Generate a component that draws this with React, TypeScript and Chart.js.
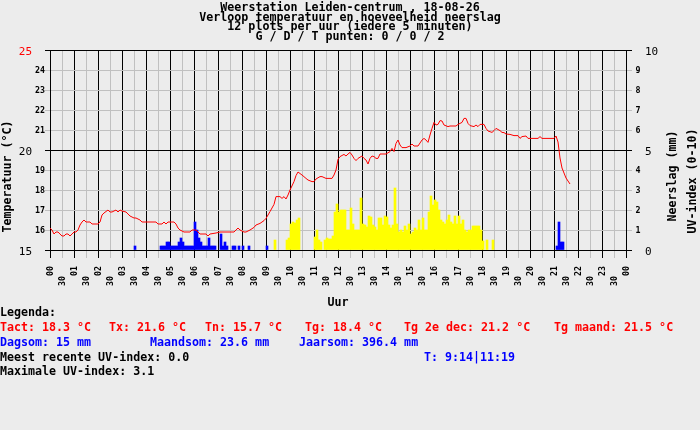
import React, { useEffect, useRef } from 'react';
import { Chart, registerables } from 'chart.js';

Chart.register(...registerables);

// ---------- texts ----------
const titleLines = [
  'Weerstation Leiden-centrum , 18-08-26',
  'Verloop temperatuur en hoeveelheid neerslag',
  '12 plots per uur (iedere 5 minuten)',
  'G / D / T punten: 0 / 0 / 2',
];
const hourLabels = ['00', '01', '02', '03', '04', '05', '06', '07', '08', '09', '10', '11', '12',
  '13', '14', '15', '16', '17', '18', '19', '20', '21', '22', '23', '00'];
const halfHourLabel = '30';
const tempTickLabels = ['15', '16', '17', '18', '19', '20', '21', '22', '23', '24', '25'];
const rightTickLabels = ['0', '1', '2', '3', '4', '5', '6', '7', '8', '9', '10'];
const leftTitle = 'Temperatuur (°C)';
const rainTitle = 'Neerslag (mm)';
const uvTitle = 'UV-index (0-10)';
const xTitle = 'Uur';
const legendHeading = 'Legenda:';
const tempStats = ['Tact: 18.3 °C', 'Tx: 21.6 °C', 'Tn: 15.7 °C', 'Tg: 18.4 °C', 'Tg 2e dec: 21.2 °C', 'Tg maand: 21.5 °C'];
const rainStats = ['Dagsom: 15 mm', 'Maandsom: 23.6 mm', 'Jaarsom: 396.4 mm'];
const uvRecent = 'Meest recente UV-index: 0.0';
const uvTimes = 'T: 9:14|11:19';
const uvMax = 'Maximale UV-index: 3.1';

// ---------- data (minutes of the day) ----------
const tempTimes = [
  0, 5, 10, 15, 20, 30, 35, 40, 45, 50, 60, 65, 70, 75, 80, 85, 90, 100, 105, 120,
  125, 130, 135, 145, 150, 155, 165, 170, 175, 180, 190, 195, 200, 210, 215, 225, 230, 265, 270, 280,
  285, 290, 295, 310, 315, 320, 325, 335, 350, 355, 365, 370, 375, 390, 395, 400, 415, 425, 460, 465,
  470, 475, 485, 490, 500, 510, 515, 525, 535, 540, 550, 560, 565, 575, 580, 585, 590, 595, 600, 610,
  615, 620, 630, 640, 645, 655, 660, 665, 675, 680, 690, 705, 710, 715, 720, 725, 735, 740, 745, 750,
  755, 760, 765, 770, 780, 785, 790, 795, 800, 805, 810, 815, 820, 825, 840, 850, 855, 860, 865, 870,
  875, 880, 890, 900, 905, 910, 920, 930, 935, 940, 945, 950, 955, 960, 965, 970, 975, 980, 985, 995,
  1000, 1015, 1020, 1030, 1035, 1040, 1045, 1050, 1060, 1065, 1070, 1075, 1085, 1090, 1095, 1105, 1110, 1115, 1125, 1130,
  1135, 1140, 1150, 1160, 1170, 1175, 1180, 1190, 1195, 1220, 1225, 1230, 1260, 1265, 1270, 1275, 1280, 1285, 1290, 1295,
  1300,
];
const tempValues = [
  16.1, 16.0, 15.8, 15.9, 15.9, 15.7, 15.7, 15.8, 15.8, 15.7, 15.9, 15.9, 16.0, 16.25, 16.4, 16.5, 16.4, 16.4, 16.3, 16.3,
  16.4, 16.75, 16.85, 17.0, 16.9, 16.9, 17.0, 16.9, 17.0, 16.95, 16.9, 16.8, 16.7, 16.6, 16.6, 16.5, 16.4, 16.4, 16.3, 16.3,
  16.4, 16.3, 16.4, 16.4, 16.3, 16.1, 16.0, 15.9, 15.9, 16.0, 16.0, 15.9, 15.8, 15.8, 15.7, 15.8, 15.85, 15.9, 15.9, 16.0,
  16.1, 16.0, 15.9, 15.9, 16.0, 16.13, 16.25, 16.33, 16.47, 16.58, 16.92, 17.28, 17.67, 17.67, 17.58, 17.67, 17.55, 17.75, 18.0, 18.42,
  18.72, 18.9, 18.75, 18.58, 18.5, 18.42, 18.42, 18.55, 18.67, 18.67, 18.58, 18.58, 18.75, 19.0, 19.53, 19.67, 19.78, 19.7, 19.8, 19.88,
  19.75, 19.58, 19.47, 19.58, 19.7, 19.58, 19.5, 19.3, 19.58, 19.7, 19.67, 19.58, 19.58, 19.8, 19.8, 19.92, 20.08, 19.92, 20.33, 20.5,
  20.25, 20.12, 20.12, 20.2, 20.3, 20.2, 20.2, 20.5, 20.58, 20.5, 20.38, 20.75, 21.08, 21.38, 21.25, 21.28, 21.47, 21.45, 21.25, 21.17,
  21.2, 21.2, 21.28, 21.38, 21.58, 21.58, 21.33, 21.22, 21.17, 21.25, 21.17, 21.28, 21.28, 21.08, 20.95, 20.88, 20.97, 21.08, 20.97, 20.88,
  20.87, 20.8, 20.78, 20.72, 20.72, 20.58, 20.67, 20.7, 20.58, 20.58, 20.67, 20.58, 20.58, 20.7, 20.4, 19.6, 19.1, 18.85, 18.6, 18.45,
  18.3,
];

// rain (blue), 5-minute slots, start minute of slot
const rainTimes = [
  210, 275, 280, 285, 290, 295, 300, 305, 310, 315, 320, 325, 330, 335, 340, 345, 350, 355, 360, 365,
  370, 375, 380, 385, 390, 395, 400, 405, 410, 425, 430, 435, 440, 455, 460, 470, 480, 495, 540,
  1265, 1270, 1275, 1280,
];
const rainValues = [
  0.2, 0.2, 0.2, 0.2, 0.4, 0.4, 0.2, 0.2, 0.2, 0.2, 0.4, 0.6, 0.4, 0.2, 0.2, 0.2, 0.2, 0.2, 1.4, 1.0,
  0.6, 0.4, 0.2, 0.2, 0.2, 0.6, 0.2, 0.2, 0.2, 0.8, 0.2, 0.4, 0.2, 0.2, 0.2, 0.2, 0.2, 0.2, 0.2,
  0.2, 1.4, 0.4, 0.4,
];

// UV index (yellow), 5-minute slots, start minute of slot
const uvSlotTimes = [
  560, 590, 595, 600, 605, 610, 615, 620, 660, 665, 670, 675,
  685, 690, 695, 700, 705, 710, 715, 720, 725, 730, 735, 740, 745, 750, 755, 760, 765, 770, 775, 780,
  785, 790, 795, 800, 805, 810, 815, 820, 825, 830, 835, 840, 845, 850, 855, 860, 865, 870, 875, 880,
  885, 890, 895, 900, 905, 910, 915, 920, 925, 930, 935, 940, 945, 950, 955, 960, 965, 970, 975, 980,
  985, 990, 995, 1000, 1005, 1010, 1015, 1020, 1025, 1030, 1035, 1040, 1045, 1050, 1055, 1060, 1065, 1070, 1075, 1080,
  1090, 1105,
];
const uvValues = [
  0.5, 0.5, 0.6, 1.3, 1.4, 1.35, 1.5, 1.6, 0.65, 1.0, 0.5, 0.4,
  0.5, 0.6, 0.55, 0.55, 0.7, 1.9, 2.3, 1.9, 2.0, 2.0, 2.0, 1.0, 1.0, 2.1, 1.3, 1.0, 1.0, 1.0, 2.6, 1.3,
  1.25, 1.15, 1.7, 1.65, 1.25, 1.15, 1.0, 1.6, 1.6, 1.25, 1.7, 1.65, 1.25, 1.1, 1.25, 3.1, 1.3, 0.9, 1.0, 0.9,
  1.2, 1.0, 1.3, 0.8, 0.9, 1.1, 1.0, 1.5, 1.0, 1.6, 1.0, 1.0, 1.9, 2.7, 2.25, 2.5, 2.4, 2.0, 1.5, 1.4,
  1.3, 1.5, 1.75, 1.4, 1.3, 1.7, 1.3, 1.7, 1.3, 1.5, 1.0, 0.9, 1.0, 1.0, 1.2, 1.2, 1.2, 1.2, 1.0, 0.45,
  0.5, 0.5,
];

const MONO = '"DejaVu Sans Mono", "Liberation Mono", monospace';
const GRID_GRAY = '#c0c0c0';
const BG = '#ececec';

const textPlugin = {
  id: 'axisTexts',
  afterDraw(chart: any) {
    const ctx = chart.ctx;
    const xs = chart.scales.x;
    const ys = chart.scales.y;
    const y2 = chart.scales.y2;
    const area = chart.chartArea;
    ctx.save();
    ctx.textBaseline = 'alphabetic';
    // left ticks
    tempTickLabels.forEach((lab) => {
      const v = Number(lab);
      const py = ys.getPixelForValue(v);
      ctx.fillStyle = v === 25 ? '#ff0000' : '#000000';
      ctx.textAlign = 'right';
      if (v % 5 === 0) {
        ctx.font = `11px ${MONO}`;
        ctx.fillText(lab, 32, py + 4.5);
      } else {
        ctx.font = `bold 8.3px ${MONO}`;
        ctx.fillText(lab, 45, py + 3.2);
      }
    });
    // right ticks
    rightTickLabels.forEach((lab) => {
      const v = Number(lab);
      const py = y2.getPixelForValue(v);
      ctx.fillStyle = '#000000';
      ctx.textAlign = 'left';
      if (v % 5 === 0) {
        ctx.font = `11px ${MONO}`;
        ctx.fillText(lab, 645, py + 4.5);
      } else {
        ctx.font = `bold 8.3px ${MONO}`;
        ctx.fillText(lab, 635.5, py + 3.2);
      }
    });
    // x ticks (rotated)
    ctx.fillStyle = '#000000';
    ctx.font = `bold 8.3px ${MONO}`;
    for (let i = 0; i < hourLabels.length * 2 - 1; i++) {
      const px = xs.getPixelForValue(i * 30);
      const isHour = i % 2 === 0;
      const lab = isHour ? hourLabels[i / 2] : halfHourLabel;
      ctx.save();
      ctx.translate(px + 1, isHour ? 276 : 286);
      ctx.rotate(-Math.PI / 2);
      ctx.textAlign = 'left';
      ctx.textBaseline = 'middle';
      ctx.fillText(lab, 0, 0);
      ctx.restore();
    }
    // axis titles
    ctx.font = `bold 11.65px ${MONO}`;
    ctx.fillStyle = '#000000';
    const rot = (t: string, cx: number, cy: number) => {
      ctx.save();
      ctx.translate(cx, cy);
      ctx.rotate(-Math.PI / 2);
      ctx.textAlign = 'center';
      ctx.textBaseline = 'middle';
      ctx.fillText(t, 0, 0);
      ctx.restore();
    };
    rot(leftTitle, 7.5, 176.5);
    rot(rainTitle, 672.5, 176);
    rot(uvTitle, 692.5, 181);
    ctx.textAlign = 'center';
    ctx.textBaseline = 'alphabetic';
    ctx.fillText(xTitle, (area.left + area.right) / 2, 305.5);
    ctx.restore();
  },
};

export default function App() {
  const ref = useRef<HTMLCanvasElement | null>(null);

  useEffect(() => {
    document.body.style.margin = '0';
    document.body.style.background = BG;
    const tempData = tempTimes.map((t, i) => ({ x: t, y: tempValues[i] }));
    const rainData = rainTimes.map((t, i) => ({ x: t + 2.5, y: rainValues[i] }));
    const uvData = uvSlotTimes.map((t, i) => ({ x: t + 2.5, y: uvValues[i] }));
    const chart = new Chart(ref.current as HTMLCanvasElement, {
      type: 'bar',
      data: {
        datasets: [
          {
            type: 'line',
            label: 'Temperatuur',
            data: tempData,
            borderColor: '#ff0000',
            borderWidth: 1,
            pointRadius: 0,
            tension: 0,
            fill: false,
            yAxisID: 'y',
            order: 0,
          } as any,
          {
            type: 'bar',
            label: 'Neerslag',
            data: rainData,
            backgroundColor: '#0000ff',
            borderWidth: 0,
            barThickness: 2,
            grouped: false,
            yAxisID: 'y2',
            order: 1,
          },
          {
            type: 'bar',
            label: 'UV-index',
            data: uvData,
            backgroundColor: '#ffff00',
            borderWidth: 0,
            barThickness: 2,
            grouped: false,
            yAxisID: 'y2',
            order: 2,
          },
        ],
      },
      options: {
        responsive: false,
        animation: false,
        events: [],
        layout: { padding: { top: 50, left: 0, right: 0, bottom: 0 }, autoPadding: false },
        plugins: { legend: { display: false }, tooltip: { enabled: false }, title: { display: false } },
        scales: {
          x: {
            type: 'linear',
            offset: false,
            min: 0,
            max: 1440,
            ticks: { display: false, stepSize: 30, autoSkip: false, maxTicksLimit: 100 },
            grid: {
              offset: false,
              color: (c: any) => (c.tick && c.tick.value % 60 === 0 ? '#000000' : GRID_GRAY),
              tickColor: (c: any) => (c.tick && c.tick.value % 60 === 0 ? '#000000' : GRID_GRAY),
              tickLength: 8,
              lineWidth: 1,
            },
            border: { display: true, color: '#000000' },
            afterFit: (s: any) => { s.height = 180; },
          },
          y: {
            position: 'left',
            min: 15,
            max: 25,
            ticks: { display: false, stepSize: 1 },
            grid: {
              color: (c: any) => (c.tick && c.tick.value % 5 === 0 ? '#000000' : GRID_GRAY),
              tickColor: (c: any) => (c.tick && c.tick.value % 5 === 0 ? '#000000' : GRID_GRAY),
              tickLength: 5,
              lineWidth: 1,
            },
            border: { display: true, color: '#000000' },
            afterFit: (s: any) => { s.width = 50; },
          },
          y2: {
            position: 'right',
            min: 0,
            max: 10,
            ticks: { display: false, stepSize: 1 },
            grid: {
              drawOnChartArea: false,
              color: (c: any) => (c.tick && c.tick.value % 5 === 0 ? '#000000' : GRID_GRAY),
              tickColor: (c: any) => (c.tick && c.tick.value % 5 === 0 ? '#000000' : GRID_GRAY),
              tickLength: 6,
              lineWidth: 1,
            },
            border: { display: true, color: '#000000' },
            afterFit: (s: any) => { s.width = 74; },
          },
        },
      } as any,
      plugins: [textPlugin],
    });
    return () => chart.destroy();
  }, []);

  const lineStyle = (left: number, baseline: number, color: string): React.CSSProperties => ({
    position: 'absolute',
    left,
    top: baseline - 11,
    color,
    fontFamily: MONO,
    fontWeight: 'bold',
    fontSize: '11.65px',
    lineHeight: '14px',
    whiteSpace: 'pre',
  });
  const tempX = [0, 109, 205, 305, 404, 554];
  const rainX = [0, 150, 299];
  const rows = [316.3, 331.1, 345.9, 360.6, 375.3];

  return (
    <div style={{ position: 'absolute', left: 0, top: 0, width: 700, height: 430, background: BG, overflow: 'hidden' }}>
      <canvas ref={ref} width={700} height={430} style={{ position: 'absolute', left: 0, top: 0, width: 700, height: 430 }} />
      <div
        style={{
          position: 'absolute', left: 0, top: 2.9, width: 700, textAlign: 'center',
          fontFamily: MONO, fontWeight: 'bold', fontSize: '11.65px', lineHeight: '9.7px', whiteSpace: 'pre', color: '#000',
        }}
      >
        {titleLines.map((l) => (<div key={l}>{l}</div>))}
      </div>
      <div style={lineStyle(0, rows[0], '#000000')}>{legendHeading}</div>
      {tempStats.map((t, i) => (<div key={t} style={lineStyle(tempX[i], rows[1], '#ff0000')}>{t}</div>))}
      {rainStats.map((t, i) => (<div key={t} style={lineStyle(rainX[i], rows[2], '#0000ff')}>{t}</div>))}
      <div style={lineStyle(0, rows[3], '#000000')}>{uvRecent}</div>
      <div style={lineStyle(424, rows[3], '#0000ff')}>{uvTimes}</div>
      <div style={lineStyle(0, rows[4], '#000000')}>{uvMax}</div>
    </div>
  );
}
